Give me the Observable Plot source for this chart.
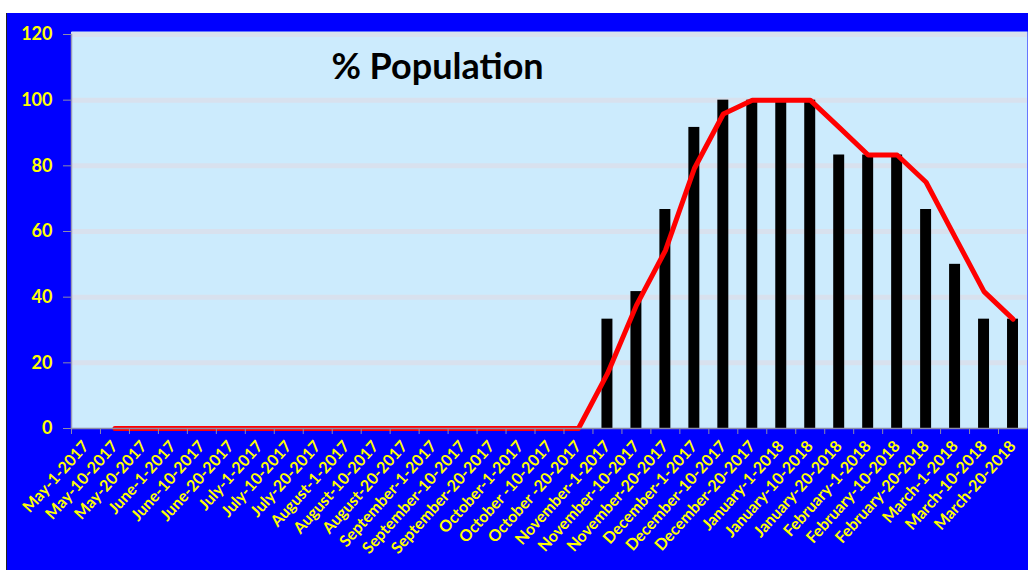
<!DOCTYPE html>
<html>
<head>
<meta charset="utf-8">
<script src="https://cdn.jsdelivr.net/npm/d3@7"></script>
<script src="https://cdn.jsdelivr.net/npm/@observablehq/plot@0.6"></script>
<style>
  html, body { margin: 0; padding: 0; background: #ffffff; }
  #wrap { position: absolute; left: 6px; top: 13px; border-left: 1px solid #222; }
  svg { display: block; }
</style>
</head>
<body>
<div id="wrap"></div>
<script>
const categories = [
  "May-1-2017", "May-10-2017", "May-20-2017", "June-1-2017", "June-10-2017", "June-20-2017",
  "July-1-2017", "July-10-2017", "July-20-2017", "August-1-2017", "August-10-2017", "August-20-2017",
  "September-1-2017", "September-10-2017", "September-20-2017", "October-1-2017", "October -10-2017",
  "October -20-2017", "November-1-2017", "November-10-2017", "November-20-2017", "December-1-2017",
  "December-10-2017", "December-20-2017", "January-1-2018", "January-10-2018", "January-20-2018",
  "February-1-2018", "February-10-2018", "February-20-2018", "March-1-2018", "March-10-2018", "March-20-2018"
];
// bar values (% population)
const barValues = [
  0, 0, 0, 0, 0, 0, 0, 0, 0, 0, 0, 0, 0, 0, 0, 0, 0, 0,
  33.3, 41.7, 66.7, 91.7, 100, 100, 100, 100, 83.3, 83.3, 83.3, 66.7, 50, 33.3, 33.3
];
// red line values (null = no point)
const lineValues = [
  null, 0, 0, 0, 0, 0, 0, 0, 0, 0, 0, 0, 0, 0, 0, 0, 0, 0,
  16.7, 37.5, 54.2, 79.2, 95.8, 100, 100, 100, 91.7, 83.3, 83.3, 75, 58.3, 41.7, 33.3
];
const yTicks = [0, 20, 40, 60, 80, 100, 120];
const gridValues = [20, 40, 60, 80, 100, 120];
const titleText = "% Population";

const bars = categories.map((c, i) => ({cat: c, value: barValues[i]}));
const line = categories.map((c, i) => ({cat: c, value: lineValues[i]})).filter(d => d.value !== null);

const W = 1021, H = 557;
const mL = 64, mR = 1, mT = 21, mB = 142;
const bw = (W - mL - mR) / categories.length;

const chart = Plot.plot({
  width: W,
  height: H,
  marginLeft: mL,
  marginRight: mR,
  marginTop: mT,
  marginBottom: mB,
  style: {background: "#0000ff", fontFamily: "Lato, 'Open Sans', sans-serif"},
  x: {type: "band", domain: categories, padding: 0, axis: null},
  y: {domain: [0, 120], axis: null},
  marks: [
    Plot.frame({fill: "#ccebfd", insetTop: -3}),
    Plot.ruleY(gridValues, {stroke: "#d8e1ee", strokeWidth: 5}),
    Plot.barY(bars, {x: "cat", y: "value", fill: "#000000", insetLeft: 9, insetRight: 9}),
    Plot.line(line, {x: "cat", y: "value", stroke: "#ff0000", strokeWidth: 5, strokeLinejoin: "round"}),
    Plot.ruleY([0], {stroke: "#8c8ca8", strokeWidth: 1.5}),
    Plot.frame({anchor: "left", stroke: "#9a9ab8", strokeWidth: 1.5}),
    Plot.text([titleText], {frameAnchor: "top", dx: -112, dy: 33, lineAnchor: "middle",
      fontSize: 36, fontWeight: "bold", fill: "#000000"}),
    Plot.axisY({ticks: yTicks, tickSize: 8, tickPadding: 11, fill: "#ffff00", stroke: "#8c8ca8",
      fontSize: 18, fontWeight: "bold", label: null}),
    Plot.axisX({tickSize: 6, text: null, dx: -bw / 2, stroke: "#8c8ca8", label: null}),
    Plot.axisX({tickSize: 0, tickPadding: 15, tickRotate: -48, fill: "#ffff00",
      fontSize: 16, fontWeight: "bold", label: null})
  ]
});
document.getElementById("wrap").appendChild(chart);
</script>
</body>
</html>
